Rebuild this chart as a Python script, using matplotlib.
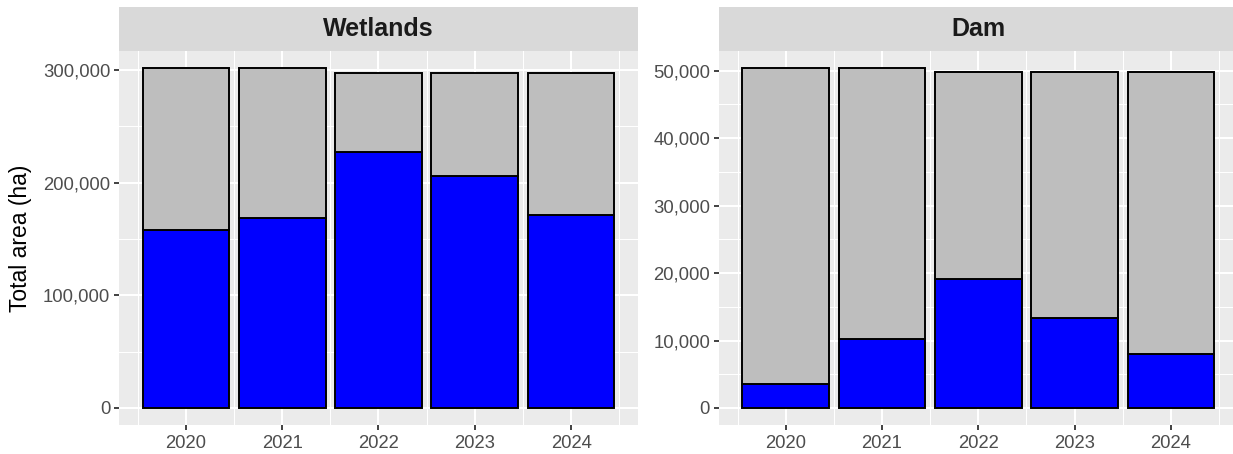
import matplotlib
matplotlib.use("Agg")
import matplotlib.pyplot as plt
from matplotlib.ticker import FuncFormatter, FixedLocator
import numpy as np

plt.rcParams['font.family'] = ['Liberation Sans', 'DejaVu Sans']

years = [2020, 2021, 2022, 2023, 2024]
wet_blue = [158000, 169000, 227000, 206000, 171700]
wet_total = [301300, 301700, 296900, 296900, 296900]
dam_blue = [3500, 10270, 19150, 13330, 8000]
dam_total = [50400, 50400, 49850, 49850, 49850]
panels = ["Wetlands", "Dam"]

W, H = 1233, 454
fig = plt.figure(figsize=(W / 100, H / 100), dpi=100)

PANEL_BG = "#EBEBEB"
STRIP_BG = "#D9D9D9"
TXT = "#4D4D4D"

def px_ax(x0, y0, x1, y1):
    return fig.add_axes([x0 / W, 1 - y1 / H, (x1 - x0) / W, (y1 - y0) / H])

def draw_panel(x0, title, blue, total, major, minor):
    ax = px_ax(x0, 51, x0 + 519, 425)
    ax.set_facecolor(PANEL_BG)
    for s in ax.spines.values():
        s.set_visible(False)
    x = np.array(years, dtype=float)
    blue = np.array(blue, dtype=float)
    total = np.array(total, dtype=float)
    ax.bar(x, blue, width=0.9, color="#0000FF", edgecolor="black", linewidth=1.4, zorder=3)
    ax.bar(x, total - blue, bottom=blue, width=0.9, color="#BEBEBE", edgecolor="black", linewidth=1.4, zorder=3)
    xr = (min(years) - 0.45, max(years) + 0.45)
    pad = 0.05 * (xr[1] - xr[0])
    ax.set_xlim(xr[0] - pad, xr[1] + pad)
    ymax = float(total.max())
    ax.set_ylim(-0.05 * ymax, 1.05 * ymax)
    ax.xaxis.set_major_locator(FixedLocator(years))
    ax.xaxis.set_minor_locator(FixedLocator([y + 0.5 for y in [years[0] - 1] + years]))
    ax.yaxis.set_major_locator(FixedLocator(major))
    ax.yaxis.set_minor_locator(FixedLocator(minor))
    ax.yaxis.set_major_formatter(FuncFormatter(lambda v, p: f"{int(round(v)):,}"))
    ax.grid(which="major", color="white", linewidth=1.5, zorder=0)
    ax.grid(which="minor", color="white", linewidth=0.75, zorder=0)
    ax.set_axisbelow(True)
    ax.tick_params(which="major", length=3.8, width=1.3, color="#333333",
                   labelsize=13.3, labelcolor=TXT, pad=2.5)
    ax.tick_params(axis="x", which="major", pad=3.5)
    ax.tick_params(which="minor", length=0)
    # strip
    sax = px_ax(x0, 7.3, x0 + 519, 50.7)
    sax.set_facecolor(STRIP_BG)
    sax.set_xticks([])
    sax.set_yticks([])
    for s in sax.spines.values():
        s.set_visible(False)
    sax.text(0.5, 0.5, title, ha="center", va="center", fontsize=18,
             fontweight="bold", color="#1A1A1A", transform=sax.transAxes)
    return ax

draw_panel(119, panels[0], wet_blue, wet_total,
           [0, 100000, 200000, 300000], [50000, 150000, 250000])
draw_panel(718.8, panels[1], dam_blue, dam_total,
           [0, 10000, 20000, 30000, 40000, 50000],
           [5000, 15000, 25000, 35000, 45000])

fig.text(21 / W, 1 - 238 / H, "Total area (ha)", rotation=90, ha="center",
         va="center", fontsize=16.5, color="black")

fig.savefig("out.png", dpi=100, facecolor="white")
